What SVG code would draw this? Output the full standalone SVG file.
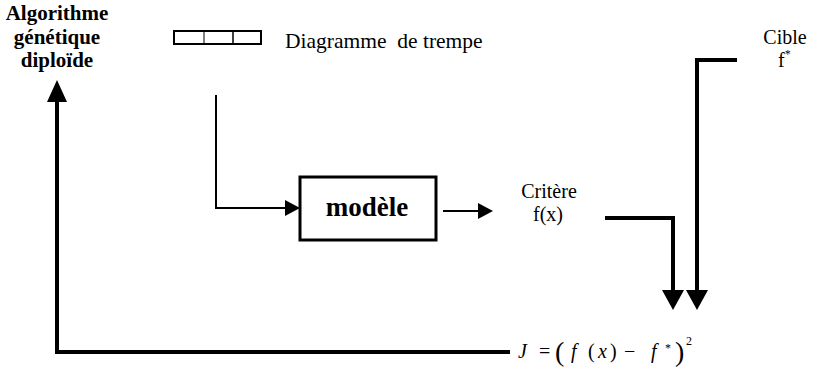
<svg xmlns="http://www.w3.org/2000/svg" width="814" height="368" viewBox="0 0 814 368">
  <style>
    text { font-family: 'Liberation Serif', 'DejaVu Serif', 'Times New Roman', serif; fill: #000; }
    .bold { font-weight: bold; }
    .it { font-style: italic; }
    .thin { fill: none; stroke: #000; stroke-width: 2; }
    .thick { fill: none; stroke: #000; stroke-width: 4; }
    .head { fill: #000; stroke: none; }
  </style>
  <rect width="814" height="368" fill="#fff"/>

  <g id="algorithme">
    <text class="bold" font-size="21" text-anchor="middle" x="57" y="20">Algorithme</text>
    <text class="bold" font-size="21" text-anchor="middle" x="57" y="44">génétique</text>
    <text class="bold" font-size="21" text-anchor="middle" x="57" y="67">diploïde</text>
  </g>

  <g id="diagramme">
    <rect x="174" y="31" width="87" height="13" fill="none" stroke="#000" stroke-width="2"/>
    <line x1="204" y1="31" x2="204" y2="44" stroke="#000" stroke-width="1"/>
    <line x1="233" y1="31" x2="233" y2="44" stroke="#000" stroke-width="1.5"/>
    <text font-size="21.5" x="285" y="48" xml:space="preserve">Diagramme  de trempe</text>
  </g>

  <g id="modele">
    <rect x="300" y="177" width="136" height="63" fill="#fff" stroke="#000" stroke-width="3"/>
    <text class="bold" font-size="27" text-anchor="middle" x="367" y="216">modèle</text>
  </g>

  <g id="critere">
    <text font-size="20" text-anchor="middle" x="549" y="198">Critère</text>
    <text font-size="20" text-anchor="middle" x="548" y="221">f(x)</text>
  </g>

  <g id="cible">
    <text font-size="20" text-anchor="middle" x="785" y="44">Cible</text>
    <text font-size="20" x="778" y="67">f<tspan font-size="12" dy="-9">*</tspan></text>
  </g>

  <g id="critere-J">
    <text font-size="20" y="358"><tspan class="it" x="518">J</tspan><tspan x="539">=</tspan><tspan x="555" y="361" font-size="28">(</tspan><tspan class="it" x="571" y="358">f</tspan><tspan x="588">(</tspan><tspan class="it" x="598">x</tspan><tspan x="610">)</tspan><tspan x="624">−</tspan><tspan class="it" x="651">f</tspan><tspan x="665" y="352" font-size="12">*</tspan><tspan x="675" y="361" font-size="28">)</tspan><tspan x="686" y="345" font-size="12">2</tspan></text>
  </g>

  <g id="connectors">
    <polyline class="thin" points="216,95 216,208 288,208"/>
    <polygon class="head" points="300,208 285,200 285,216"/>
    <line class="thin" x1="443" y1="211" x2="480" y2="211"/>
    <polygon class="head" points="493,211 478,203 478,219"/>
    <polyline class="thick" points="605,218 673,218 673,292"/>
    <polygon class="head" points="673,310 662,290 684,290"/>
    <polyline class="thick" points="737,60 697,60 697,292"/>
    <polygon class="head" points="697,310 686,290 708,290"/>
    <polyline class="thick" points="510,352 57,352 57,98"/>
    <polygon class="head" points="57,80 47,102 67,102"/>
  </g>
</svg>
